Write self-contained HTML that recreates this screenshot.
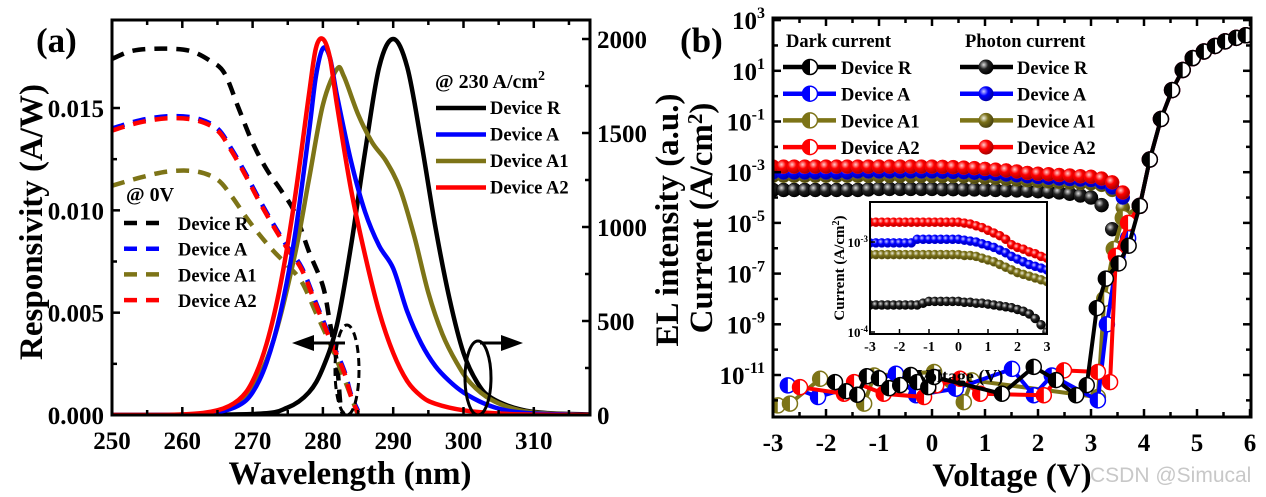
<!DOCTYPE html>
<html><head><meta charset="utf-8"><style>
body{margin:0;background:#fff}
svg{display:block;font-family:"Liberation Serif",serif;font-weight:bold}
</style></head><body>
<svg id="s" width="1266" height="497" viewBox="0 0 1266 497" xmlns="http://www.w3.org/2000/svg">
<defs>
<radialGradient id="gk" cx="35%" cy="35%" r="65%"><stop offset="0" stop-color="#ddd"/><stop offset="0.45" stop-color="#222"/><stop offset="1" stop-color="#000"/></radialGradient>
<radialGradient id="gb" cx="35%" cy="35%" r="65%"><stop offset="0" stop-color="#ccf"/><stop offset="0.45" stop-color="#00f"/><stop offset="1" stop-color="#0000aa"/></radialGradient>
<radialGradient id="go" cx="35%" cy="35%" r="65%"><stop offset="0" stop-color="#eed"/><stop offset="0.45" stop-color="#7a7018"/><stop offset="1" stop-color="#4a4410"/></radialGradient>
<radialGradient id="gr" cx="35%" cy="35%" r="65%"><stop offset="0" stop-color="#fcc"/><stop offset="0.45" stop-color="#f00"/><stop offset="1" stop-color="#a00"/></radialGradient>
</defs>
</svg>
<script>
// ---------- Panel (a) data ----------
const elR_w=[250,270,275,278,280,282,284,286,288,290,292,294,296,298,300,302,304,308,312,318];
const elR_v=[0,5,40,120,250,480,900,1400,1850,2000,1850,1450,1000,620,330,170,90,30,10,3];
const elA_w=[250,260,265,268,270,272,274,276,278,279,280,281,282,284,286,288,290,292,294,296,298,300,303,306,310,318];
const elA_v=[0,2,15,50,120,280,550,950,1500,1800,1950,1900,1700,1350,1080,900,780,550,380,260,180,120,60,25,8,0];
const elA1_w=[250,262,266,270,273,276,278,280,282,283,285,287,289,291,293,295,297,299,301,304,308,312,318];
const elA1_v=[0,5,30,150,400,850,1250,1650,1840,1800,1600,1450,1350,1200,950,650,430,280,170,80,25,8,0];
const elA2_w=[250,260,265,268,270,272,274,276,278,279,280,281,282,284,286,288,290,292,294,296,300,305,310,318];
const elA2_v=[0,3,25,80,180,380,700,1150,1700,1950,2000,1900,1650,1200,850,550,330,180,100,60,25,8,2,0];
const rR_w=[250,253,257,261,264,266,268,270,272,274,276,278,280,281,282,282.5,283];
const rR_v=[0.0174,0.0178,0.0179,0.0178,0.0173,0.0167,0.0150,0.0133,0.0120,0.0110,0.0099,0.0080,0.0063,0.0045,0.0025,0.0005,0];
const rA_w=[250,254,258,262,265,267,269,271,273,275,277,279,281,283,284,285];
const rA_v=[0.0140,0.0144,0.0146,0.0145,0.0140,0.0130,0.0118,0.0105,0.0093,0.0082,0.0072,0.0055,0.0038,0.0022,0.0010,0.0002];
const rA2_v=[0.0139,0.0143,0.0145,0.0144,0.0139,0.0129,0.0117,0.0104,0.0092,0.0081,0.0071,0.0054,0.0037,0.0021,0.0009,0.0001];
const rA1_w=[250,254,258,262,265,267,269,271,273,275,277,279,281,283,285];
const rA1_v=[0.0112,0.0116,0.0119,0.0119,0.0115,0.0107,0.0097,0.0088,0.0080,0.0073,0.0065,0.0050,0.0035,0.0018,0];
const xTicksA=[250,260,270,280,290,300,310];
const yTicksL=[0,0.005,0.010,0.015];
const yTicksLlab=["0.000","0.005","0.010","0.015"];
const yTicksR=[0,500,1000,1500,2000];

// ---------- Panel (b) data (current as log10 A/cm2) ----------
const photonV=[-3,-2.8,-2.6,-2.4,-2.2,-2,-1.8,-1.6,-1.4,-1.2,-1,-0.8,-0.6,-0.4,-0.2,0,0.2,0.4,0.6,0.8,1,1.2,1.4,1.6,1.8,2,2.2,2.4,2.6,2.8,3,3.2,3.4,3.6];
const phR=[-3.70,-3.70,-3.70,-3.70,-3.70,-3.70,-3.70,-3.70,-3.70,-3.68,-3.66,-3.66,-3.66,-3.66,-3.66,-3.66,-3.67,-3.67,-3.68,-3.68,-3.69,-3.70,-3.71,-3.72,-3.73,-3.75,-3.77,-3.80,-3.85,-3.92,-4.0,-4.3,-5.25,-5.95];
const phA=[-3.01,-3.01,-3.01,-3.01,-3.01,-3.01,-3.01,-3.01,-2.97,-2.97,-2.97,-2.97,-2.97,-2.97,-2.97,-2.97,-2.98,-2.99,-3.00,-3.02,-3.04,-3.06,-3.09,-3.12,-3.16,-3.19,-3.22,-3.25,-3.27,-3.29,-3.31,-3.40,-3.60,-4.0];
const phA1=[-3.14,-3.14,-3.14,-3.14,-3.14,-3.14,-3.14,-3.14,-3.14,-3.14,-3.14,-3.14,-3.14,-3.14,-3.14,-3.14,-3.15,-3.15,-3.16,-3.18,-3.20,-3.22,-3.25,-3.28,-3.31,-3.34,-3.36,-3.38,-3.40,-3.42,-3.44,-3.50,-3.70,-4.40];
const phA2=[-2.78,-2.78,-2.78,-2.78,-2.78,-2.78,-2.78,-2.78,-2.78,-2.78,-2.78,-2.78,-2.78,-2.78,-2.78,-2.78,-2.79,-2.80,-2.82,-2.84,-2.87,-2.90,-2.93,-2.97,-3.03,-3.06,-3.08,-3.11,-3.13,-3.16,-3.18,-3.25,-3.40,-3.80];
const fwdV=[3.92,4.11,4.32,4.53,4.73,4.92,5.13,5.34,5.53,5.74,5.92];
const fwdI=[-4.33,-2.5,-0.9,0.24,1.03,1.5,1.76,1.98,2.16,2.3,2.4];
const dkR_v=[-1.83,-1.62,-1.41,-1.23,-1.0,-0.81,-0.6,-0.4,-0.28,-0.07,0.04,1.32,1.92,2.34,2.72,2.92,3.11,3.28,3.52,3.71];
const dkR_i=[-11.28,-11.64,-11.78,-11.05,-11.13,-11.52,-11.4,-11.0,-11.28,-11.48,-11.08,-11.74,-10.68,-11.2,-11.8,-11.4,-8.36,-7.2,-6.6,-5.9];
const dkA_v=[-2.72,-2.15,-0.68,-0.3,0.45,1.51,1.92,2.26,3.13,3.3,3.5,3.7];
const dkA_i=[-11.41,-11.87,-10.95,-11.8,-11.54,-10.76,-11.8,-11.02,-12.0,-9.0,-6.3,-5.6];
const dkA1_v=[-2.91,-2.68,-2.11,-1.28,-1.09,0.04,0.6,0.75,3.13,3.25,3.43,3.6];
const dkA1_i=[-12.2,-12.13,-11.15,-12.13,-11.02,-10.88,-12.07,-11.21,-11.87,-8.0,-6.03,-4.8];
const dkA2_v=[-2.49,-1.66,-1.47,-0.91,-0.15,0.08,0.53,0.91,2.11,2.49,3.13,3.36,3.47,3.7];
const dkA2_i=[-11.48,-11.74,-11.28,-11.74,-11.87,-11.41,-11.15,-11.74,-11.8,-10.82,-10.88,-11.28,-6.3,-5.0];
const xTicksB=[-3,-2,-1,0,1,2,3,4,5,6];
const yExpB=[3,1,-1,-3,-5,-7,-9,-11];
const xTicksI=[-3,-2,-1,0,1,2,3];

const S=document.getElementById('s');
const NS='http://www.w3.org/2000/svg';
function mk(tag,attrs,parent,txt){const e=document.createElementNS(NS,tag);for(const k in attrs)e.setAttribute(k,attrs[k]);if(txt!==undefined)e.textContent=txt;(parent||S).appendChild(e);return e;}

const xa=w=>112+(w-250)*7.03, yaL=r=>415-r*20466, yaR=e=>415-e*0.188;
const xb=v=>773+(v+3)*53, yb=l=>375-(l+11)*25.35;
const xi=v=>870+(v+3)*29.5, yi=l=>242-(l+3)*90;
const BK='#000',BL='#0000ff',OL='#7d7417',RD='#ff0000';

function smoothPath(pts){
  let d='M'+pts[0][0]+','+pts[0][1];
  for(let i=0;i<pts.length-1;i++){
    const p0=pts[Math.max(0,i-1)],p1=pts[i],p2=pts[i+1],p3=pts[Math.min(pts.length-1,i+2)];
    const c1x=p1[0]+(p2[0]-p0[0])/6,c1y=p1[1]+(p2[1]-p0[1])/6;
    const c2x=p2[0]-(p3[0]-p1[0])/6,c2y=p2[1]-(p3[1]-p1[1])/6;
    d+=' C'+c1x+','+c1y+' '+c2x+','+c2y+' '+p2[0]+','+p2[1];
  }
  return d;
}

// ---------- Panel (a) ----------
const gA=mk('g',{});


function poly(ws,vs,fx,fy,color,dash,name,par){
  const p=mk('path',{d:smoothPath(ws.map((w,i)=>[fx(w),fy(vs[i])])),fill:'none',stroke:color,'stroke-width':4.5,'stroke-linejoin':'round','stroke-dasharray':dash||'none'},par);
  
  
}
const clipA=mk('clipPath',{id:'ca'});mk('rect',{x:112,y:20,width:478,height:395},clipA);
const gAc=mk('g',{'clip-path':'url(#ca)'},gA);
poly(rR_w,rR_v,xa,yaL,BK,'13,9','resp-device-r',gAc);
poly(rA_w,rA_v,xa,yaL,BL,'13,9','resp-device-a',gAc);
poly(rA1_w,rA1_v,xa,yaL,OL,'13,9','resp-device-a1',gAc);
poly(rA_w,rA2_v,xa,yaL,RD,'13,9','resp-device-a2',gAc);
poly(elR_w,elR_v,xa,yaR,BK,'','el-device-r',gAc);
poly(elA1_w,elA1_v,xa,yaR,OL,'','el-device-a1',gAc);
poly(elA_w,elA_v,xa,yaR,BL,'','el-device-a',gAc);
poly(elA2_w,elA2_v,xa,yaR,RD,'','el-device-a2',gAc);
mk('rect',{x:112,y:20,width:478,height:395,fill:'none',stroke:'#000','stroke-width':3},gA);
for(let w=250;w<=318;w+=5){const maj=w%10===0;const x=xa(w);mk('line',{x1:x,y1:415,x2:x,y2:415-(maj?8:5),stroke:'#000','stroke-width':2.5},gA);mk('line',{x1:x,y1:20,x2:x,y2:20+(maj?8:5),stroke:'#000','stroke-width':2.5},gA);}
xTicksA.forEach(w=>{const t=mk('text',{x:xa(w),y:449,'font-size':25,'text-anchor':'middle'},gA,String(w));});
for(let r=0;r<=0.019;r+=0.0025){const y=yaL(r);mk('line',{x1:112,y1:y,x2:112+(Math.round(r*400)%2===0?8:5),y2:y,stroke:'#000','stroke-width':2.5},gA);}
yTicksL.forEach((r,i)=>{const t=mk('text',{x:104,y:yaL(r)+9,'font-size':25,'text-anchor':'end'},gA,yTicksLlab[i]);});
for(let e=0;e<=2100;e+=250){const y=yaR(e);mk('line',{x1:590,y1:y,x2:590-(e%500===0?8:5),y2:y,stroke:'#000','stroke-width':2.5},gA);}
yTicksR.forEach(e=>{const t=mk('text',{x:597,y:yaR(e)+9,'font-size':25},gA,String(e));});
mk('ellipse',{cx:347,cy:370,rx:12,ry:45,fill:'none',stroke:'#000','stroke-width':3,'stroke-dasharray':'8,5'},gA);
mk('ellipse',{cx:478,cy:378,rx:13,ry:37,fill:'none',stroke:'#000','stroke-width':3},gA);
mk('line',{x1:345,y1:343,x2:305,y2:343,stroke:'#000','stroke-width':3},gA);
mk('polygon',{points:'292,343 314,335 314,351'},gA);
mk('line',{x1:480,y1:343,x2:510,y2:343,stroke:'#000','stroke-width':3},gA);
mk('polygon',{points:'523,343 501,335 501,351'},gA);
const lg1=mk('g',{},gA);
const t230=mk('text',{x:435,y:88,'font-size':20},lg1);t230.innerHTML='@ 230 A/cm<tspan dy="-8" font-size="14">2</tspan>';
[['Device R',BK],['Device A',BL],['Device A1',OL],['Device A2',RD]].forEach((d,i)=>{const y=108+i*26.5;mk('line',{x1:436,y1:y,x2:486,y2:y,stroke:d[1],'stroke-width':4.5},lg1);mk('text',{x:490,y:y+6,'font-size':18.5},lg1,d[0]);});
const lg2=mk('g',{},gA);
mk('text',{x:126,y:201,'font-size':20},lg2,'@ 0V');
[['Device R',BK],['Device A',BL],['Device A1',OL],['Device A2',RD]].forEach((d,i)=>{const y=223+i*25.7;mk('line',{x1:124,y1:y,x2:166,y2:y,stroke:d[1],'stroke-width':4.5,'stroke-dasharray':'13,9'},lg2);mk('text',{x:178,y:y+7,'font-size':18.5},lg2,d[0]);});
mk('text',{x:36,y:52,'font-size':35},gA,'(a)');
mk('text',{x:350,y:484,'font-size':33,'text-anchor':'middle'},gA,'Wavelength (nm)');
mk('text',{x:0,y:0,'font-size':33,'text-anchor':'middle',transform:'translate(42,222) rotate(-90)'},gA,'Responsivity (A/W)');

// ---------- Panel (b) ----------
const gB=mk('g',{});


const t1=mk('text',{x:0,y:0,'font-size':33,'text-anchor':'middle',transform:'translate(678,220) rotate(-90)'},gB,'EL intensity (a.u.)');
const t2=mk('text',{x:0,y:0,'font-size':33,'text-anchor':'middle',transform:'translate(712,218) rotate(-90)'},gB);t2.innerHTML='Current (A/cm<tspan dy="-10" font-size="21">2</tspan><tspan dy="10">)</tspan>';
const clipB=mk('clipPath',{id:'cb'});mk('rect',{x:773,y:18,width:478,height:399},clipB);
const gBc=mk('g',{'clip-path':'url(#cb)'},gB);
function darkSeries(vs,is,color,name,r,fx,fy,par){
  const g=mk('g',{},par);
  mk('polyline',{points:vs.map((v,i)=>fx(v)+','+fy(is[i])).join(' '),fill:'none',stroke:color,'stroke-width':4},g);
  vs.forEach((v,i)=>{const x=fx(v),y=fy(is[i]);
    const m=mk('g',{},g);
    mk('circle',{cx:x,cy:y,r:r,fill:'#fff',stroke:color,'stroke-width':1.5},m);
    mk('path',{d:`M${x},${y-r} A${r},${r} 0 0 0 ${x},${y+r} Z`,fill:color},m);});
}
function photonSeries(vs,is,grad,color,name,r,fx,fy,par){
  const g=mk('g',{},par);
  vs.forEach((v,i)=>{const m=mk('circle',{cx:fx(v),cy:fy(is[i]),r:r,fill:'url(#'+grad+')',stroke:color,'stroke-width':0.5},g);});
}
photonSeries(photonV,phR,'gk',BK,'photon-device-r',7,xb,yb,gBc);
photonSeries(photonV,phA1,'go',OL,'photon-device-a1',7,xb,yb,gBc);
photonSeries(photonV,phA,'gb',BL,'photon-device-a',7,xb,yb,gBc);
photonSeries(photonV,phA2,'gr',RD,'photon-device-a2',7,xb,yb,gBc);
darkSeries(dkA1_v.concat(fwdV),dkA1_i.concat(fwdI),OL,'dark-device-a1',7.5,xb,yb,gBc);
darkSeries(dkA_v.concat(fwdV),dkA_i.concat(fwdI),BL,'dark-device-a',7.5,xb,yb,gBc);
darkSeries(dkA2_v.concat(fwdV),dkA2_i.concat(fwdI),RD,'dark-device-a2',7.5,xb,yb,gBc);
darkSeries(dkR_v.concat(fwdV),dkR_i.concat(fwdI),BK,'dark-device-r',7.5,xb,yb,gBc);
mk('rect',{x:773,y:18,width:478,height:399,fill:'none',stroke:'#000','stroke-width':3},gB);
for(let v=-3;v<=6.01;v+=0.5){const x=xb(v);const maj=Math.abs(v-Math.round(v))<0.01;mk('line',{x1:x,y1:417,x2:x,y2:417-(maj?8:5),stroke:'#000','stroke-width':2.5},gB);mk('line',{x1:x,y1:18,x2:x,y2:18+(maj?8:5),stroke:'#000','stroke-width':2.5},gB);}
xTicksB.forEach(v=>{const t=mk('text',{x:xb(v),y:451,'font-size':25,'text-anchor':'middle'},gB,String(v));});
for(let e=-12;e<=3;e++){const y=yb(e);if(y<18)continue;const maj=Math.abs(e%2)===1;mk('line',{x1:773,y1:y,x2:773+(maj?8:5),y2:y,stroke:'#000','stroke-width':2.5},gB);mk('line',{x1:1251,y1:y,x2:1251-(maj?8:5),y2:y,stroke:'#000','stroke-width':2.5},gB);}
yExpB.forEach(e=>{const t=mk('text',{x:765,y:yb(e)+9,'font-size':25,'text-anchor':'end'},gB);t.innerHTML='10<tspan dy="-11" font-size="16">'+e+'</tspan>';});
const lgb=mk('g',{},gB);
mk('text',{x:786,y:47,'font-size':18.5},lgb,'Dark current');
mk('text',{x:965,y:47,'font-size':18.5},lgb,'Photon current');
[['Device R',BK,'gk'],['Device A',BL,'gb'],['Device A1',OL,'go'],['Device A2',RD,'gr']].forEach((d,i)=>{const y=67+i*26.7;
  mk('line',{x1:783,y1:y,x2:836,y2:y,stroke:d[1],'stroke-width':4.5},lgb);
  mk('circle',{cx:810,cy:y,r:7.5,fill:'#fff',stroke:d[1],'stroke-width':1.5},lgb);
  mk('path',{d:`M810,${y-7.5} A7.5,7.5 0 0 0 810,${y+7.5} Z`,fill:d[1]},lgb);
  mk('text',{x:841,y:y+7,'font-size':18.5},lgb,d[0]);
  mk('line',{x1:960,y1:y,x2:1013,y2:y,stroke:d[1],'stroke-width':4.5},lgb);
  mk('circle',{cx:986,cy:y,r:7.5,fill:'url(#'+d[2]+')'},lgb);
  mk('text',{x:1017,y:y+7,'font-size':18.5},lgb,d[0]);});
const gI=mk('g',{},gB);
mk('rect',{x:870,y:202,width:177,height:132,fill:'#fff'},gI);
const clipI=mk('clipPath',{id:'ci'});mk('rect',{x:870,y:202,width:177,height:132},clipI);
const gIc=mk('g',{'clip-path':'url(#ci)'},gI);
const inV=photonV.slice(0,31);
photonSeries(inV,phR.slice(0,31),'gk',BK,'inset-photon-r',4.5,xi,yi,gIc);
photonSeries(inV,phA1.slice(0,31),'go',OL,'inset-photon-a1',4.5,xi,yi,gIc);
photonSeries(inV,phA.slice(0,31),'gb',BL,'inset-photon-a',4.5,xi,yi,gIc);
photonSeries(inV,phA2.slice(0,31),'gr',RD,'inset-photon-a2',4.5,xi,yi,gIc);
mk('rect',{x:870,y:202,width:177,height:132,fill:'none',stroke:'#000','stroke-width':2},gI);
xTicksI.forEach(v=>{const x=xi(v);mk('line',{x1:x,y1:334,x2:x,y2:329,stroke:'#000','stroke-width':1.5},gI);mk('text',{x:x,y:351,'font-size':14,'text-anchor':'middle'},gI,String(v));});
[-3,-4].forEach(e=>{const y=yi(e);mk('line',{x1:870,y1:y,x2:875,y2:y,stroke:'#000','stroke-width':1.5},gI);const t=mk('text',{x:868,y:y+5,'font-size':13,'text-anchor':'end'},gI);t.innerHTML='10<tspan dy="-5" font-size="9">'+e+'</tspan>';});
mk('text',{x:960,y:382,'font-size':18,'text-anchor':'middle'},gI,'Voltage (V)');
const ti=mk('text',{x:0,y:0,'font-size':15,'text-anchor':'middle',transform:'translate(844,268) rotate(-90)'},gI);ti.innerHTML='Current (A/cm<tspan dy="-5" font-size="10">2</tspan><tspan dy="5">)</tspan>';
mk('text',{x:680,y:52,'font-size':35},gB,'(b)');
mk('text',{x:1012,y:486,'font-size':33,'text-anchor':'middle'},gB,'Voltage (V)');
const wm=mk('text',{x:1090,y:482,'font-size':21,fill:'#c8c8c8','font-weight':'normal','font-family':'Liberation Sans, sans-serif'},S,'CSDN @Simucal');


</script>
</body></html>
